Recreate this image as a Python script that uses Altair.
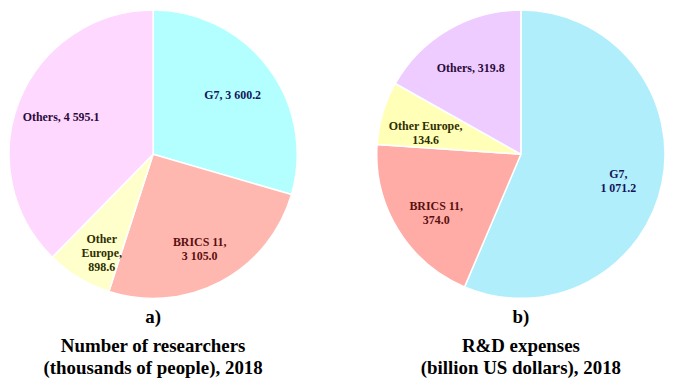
import altair as alt
import pandas as pd

regions = ["G7", "BRICS 11", "Other Europe", "Others"]
researchers = [3600.2, 3105.0, 898.6, 4595.1]
rd_expenses = [1071.2, 374.0, 134.6, 319.8]
researcher_labels = ["G7, 3 600.2", "BRICS 11,\n3 105.0", "Other\nEurope,\n898.6", "Others, 4 595.1"]
rd_labels = ["G7,\n1 071.2", "BRICS 11,\n374.0", "Other Europe,\n134.6", "Others, 319.8"]

fills_a = ["#b3ffff", "#ffb8b0", "#ffffcc", "#ffd8ff"]
fills_b = ["#b0eefc", "#ffaca6", "#ffffb8", "#eeccff"]
inks = ["#14145a", "#5a1010", "#2e2e00", "#2a0a3a"]

FONT = "Liberation Serif"


def pie(values, labels, fills, title, subtitle):
    df = pd.DataFrame({"region": regions, "value": values, "label": labels,
                       "idx": list(range(len(regions)))})
    base = alt.Chart(df).encode(
        theta=alt.Theta("value:Q", stack=True),
        order=alt.Order("idx:Q"),
    )
    arcs = base.mark_arc(outerRadius=145, stroke="white", strokeWidth=1.5,
                         strokeJoin="round").encode(
        color=alt.Color("region:N", scale=alt.Scale(domain=regions, range=fills), legend=None)
    )
    text = base.mark_text(radius=100, font=FONT, fontWeight="bold", fontSize=12,
                          lineBreak="\n", lineHeight=14).encode(
        text="label:N",
        color=alt.Color("region:N", scale=alt.Scale(domain=regions, range=inks), legend=None),
    )
    return alt.layer(arcs, text).resolve_scale(color="independent").properties(
        width=290, height=290,
        title=alt.TitleParams(
            text=title, subtitle=subtitle, orient="bottom", anchor="middle",
            font=FONT, fontSize=19, fontWeight="bold", color="black",
            subtitleFont=FONT, subtitleFontSize=19, subtitleFontWeight="bold",
            subtitleColor="black", subtitleLineHeight=22, subtitlePadding=10,
            offset=9,
        ),
    )


left = pie(researchers, researcher_labels, fills_a, "a)",
           ["Number  of researchers", "(thousands  of people), 2018"])
right = pie(rd_expenses, rd_labels, fills_b, "b)",
            ["R&D expenses", "(billion  US dollars),  2018"])

chart = alt.hconcat(left, right, spacing=78).properties(padding=0).configure_view(stroke=None)
chart.save("out.html", embed_options={"renderer": "svg", "actions": False})
